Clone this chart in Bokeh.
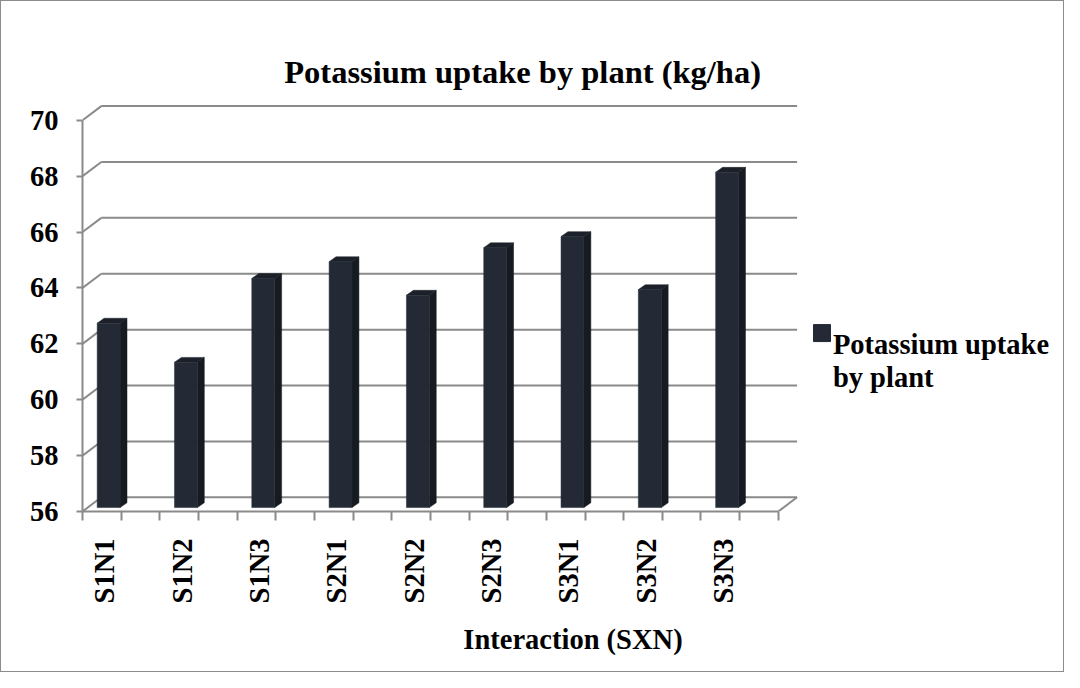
import math
from bokeh.plotting import figure
from bokeh.models import Range1d, FixedTicker
from bokeh.embed import file_html
from bokeh.resources import INLINE
from bokeh.core.properties import value

# ---- data ----
categories = ["S1N1", "S1N2", "S1N3", "S2N1", "S2N2", "S2N3", "S3N1", "S3N2", "S3N3"]
uptake = [62.6, 61.2, 64.2, 64.8, 63.6, 65.3, 65.7, 63.8, 68.0]
y_ticks = [56, 58, 60, 62, 64, 66, 68, 70]
chart_title = "Potassium uptake by plant (kg/ha)"
x_title = "Interaction (SXN)"
legend_lines = ["Potassium uptake", "by plant"]

# ---- layout: map reference-image pixels onto the figure canvas ----
W, H = 1062, 670
SX = W / 1073.0
SY = H / 685.0
def fx(X):
    return (X - 5) * SX
def fy(Y):
    return (Y - 1) * SY

FL = round(fx(87))          # frame left (canvas px)
FB = round(fy(522))         # frame bottom (canvas px from top)
FW = W - FL
FH = FB
PX_X = 78.11 * SX           # px per category
PX_Y = 28.57 * SY           # px per value unit
Y0 = 56
def dxp(X):
    return (fx(X) - FL) / PX_X
def dyp(Y):
    return Y0 + (FB - fy(Y)) / PX_Y

DX = 19 * SX / PX_X         # depth offset of back wall
DY = 14.5 * SY / PX_Y

GRID = "#8a8a8a"
FONT = "Liberation Serif"
FS = "28.5px"

p = figure(frame_width=FW, frame_height=FH,
           x_range=Range1d(0, FW / PX_X), y_range=Range1d(Y0, Y0 + FH / PX_Y),
           output_backend="svg", toolbar_location=None,
           min_border_left=FL, min_border_right=0, min_border_top=0,
           min_border_bottom=H - FH)
p.styles = {"border": "1px solid #8c8c8c"}
p.outline_line_color = None
p.xgrid.visible = False
p.ygrid.visible = False
p.background_fill_color = "white"

n = len(categories)
# back wall gridlines and side-wall diagonals
p.segment(x0=[DX] * len(y_ticks), x1=[n + DX] * len(y_ticks),
          y0=[t + DY for t in y_ticks], y1=[t + DY for t in y_ticks],
          line_color=GRID, line_width=2)
p.segment(x0=[0] * len(y_ticks), x1=[DX] * len(y_ticks),
          y0=y_ticks, y1=[t + DY for t in y_ticks],
          line_color=GRID, line_width=2)
# floor right edge
p.segment(x0=[n], x1=[n + DX], y0=[Y0], y1=[Y0 + DY], line_color=GRID, line_width=2)

# 3D bars
bl, br = 0.19, 0.486
bz = 4 / 28.57
sxd, syd = 7 / 78.11, 5 / 28.57
lefts = [i + bl for i in range(n)]
rights = [i + br for i in range(n)]
bottoms = [Y0 + bz] * n
tops = [v + bz for v in uptake]

side_xs = [[r, r + sxd, r + sxd, r] for r in rights]
side_ys = [[b, b + syd, t + syd, t] for b, t in zip(bottoms, tops)]
top_xs = [[l, l + sxd, r + sxd, r] for l, r in zip(lefts, rights)]
top_ys = [[t, t + syd, t + syd, t] for t in tops]

p.patches(side_xs, side_ys, fill_color="#161b22", line_color="#161b22", line_width=0.5)
p.patches(top_xs, top_ys, fill_color="#1b2029", line_color="#1b2029", line_width=0.5)
p.quad(left=lefts, right=rights, bottom=bottoms, top=tops,
       fill_color="#232a36", line_color="#232a36", line_width=0.5)

# y axis
ya = p.yaxis[0]
ya.ticker = FixedTicker(ticks=y_ticks)
ya.bounds = (Y0, max(y_ticks))
ya.axis_line_color = GRID
ya.axis_line_width = 2
ya.major_tick_line_color = GRID
ya.major_tick_line_width = 2
ya.major_tick_out = 6
ya.major_tick_in = 0
ya.minor_tick_line_color = None
ya.major_label_text_font = FONT
ya.major_label_text_font_style = "bold"
ya.major_label_text_font_size = FS
ya.major_label_text_color = "black"
ya.major_label_standoff = 18

# x axis
xa = p.xaxis[0]
label_pos = [round(i + 0.29, 2) for i in range(n)]
xa.ticker = FixedTicker(ticks=label_pos, minor_ticks=[k * 0.5 for k in range(2 * n + 1)])
xa.major_label_overrides = {pos: c for pos, c in zip(label_pos, categories)}
xa.bounds = (0, n)
xa.axis_line_color = GRID
xa.axis_line_width = 2
xa.major_tick_line_color = None
xa.major_tick_out = 0
xa.major_tick_in = 0
xa.minor_tick_line_color = GRID
xa.minor_tick_line_width = 2
xa.minor_tick_out = 9
xa.minor_tick_in = 0
xa.major_label_orientation = math.pi / 2
xa.major_label_text_font = FONT
xa.major_label_text_font_style = "bold"
xa.major_label_text_font_size = FS
xa.major_label_text_color = "black"
xa.major_label_standoff = 18
xa.axis_label = x_title
xa.axis_label_text_font = FONT
xa.axis_label_text_font_style = "bold"
xa.axis_label_text_font_size = FS
xa.axis_label_text_color = "black"
xa.axis_label_standoff = 18

# title
p.text(x=[dxp(531.5)], y=[dyp(73)], text=[chart_title],
       text_font=value(FONT), text_font_style="bold", text_font_size="32.5px",
       text_align="center", text_baseline="middle", text_color="black")

# legend
p.scatter(x=[dxp(834)], y=[dyp(340)], marker="square",
          size=17, fill_color="#232a36", line_color="#232a36")
p.text(x=[dxp(845)] * 2, y=[dyp(352), dyp(385)],
       text=legend_lines, text_font=value(FONT), text_font_style="bold",
       text_font_size=FS, text_align="left", text_baseline="alphabetic",
       text_color="black")

open("out.html", "w").write(file_html(p, INLINE))
